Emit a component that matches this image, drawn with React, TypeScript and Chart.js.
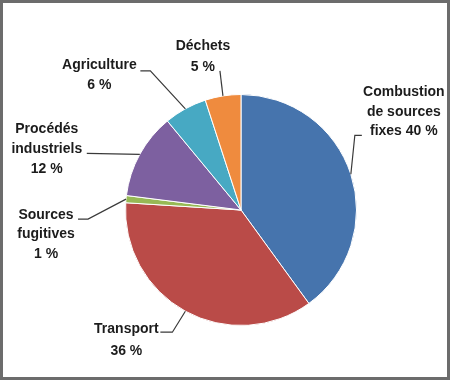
import React, { useEffect, useRef } from "react";
import { Chart, registerables } from "chart.js";

Chart.register(...registerables);

const categories = [
  "Combustion de sources fixes",
  "Transport",
  "Sources fugitives",
  "Procédés industriels",
  "Agriculture",
  "Déchets",
];
const values = [40, 36, 1, 12, 6, 5];
const colors = ["#4674AD", "#BA4B48", "#97B955", "#7D60A0", "#47A9C3", "#EF8B3E"];

// label text broken into lines; percentage either appended to last line or on its own line
const nameLines = [
  ["Combustion", "de sources", "fixes"],
  ["Transport"],
  ["Sources", "fugitives"],
  ["Procédés", "industriels"],
  ["Agriculture"],
  ["Déchets"],
];
const pctInline = [true, false, false, false, false, false];

// layout of the outside labels, relative to the arc's mid point on the rim
const labelLayout = [
  { tx: 53, ty: -63, lh: 19.5, pts: [[4, -39], [11, -39]] },
  { tx: -59, ty: 29, lh: 22, pts: [[-13, 21], [-25, 21]] },
  { tx: -80, ty: 35, lh: 19.5, pts: [[-38, 20], [-48, 20]] },
  { tx: -93, ty: -6, lh: 20, pts: [[-53, -1]] },
  { tx: -86, ty: -34, lh: 20, pts: [[-35, -38], [-45, -38]] },
  { tx: -20, ty: -40, lh: 21, pts: [[-3, -25]] },
];

const FONT_PX = 15.5;
const X_SCALE = 14 / 15.5;

const labelPlugin = {
  id: "outsideLabels",
  afterDatasetsDraw(chart: any) {
    const ctx = chart.ctx;
    const meta = chart.getDatasetMeta(0);
    meta.data.forEach((arc: any, i: number) => {
      const { x, y, outerRadius, startAngle, endAngle } = arc.getProps(
        ["x", "y", "outerRadius", "startAngle", "endAngle"],
        true
      );
      const mid = (startAngle + endAngle) / 2;
      const ax = x + Math.cos(mid) * outerRadius;
      const ay = y + Math.sin(mid) * outerRadius;
      const lay = labelLayout[i];
      ctx.save();
      ctx.beginPath();
      ctx.strokeStyle = "#3a3a3a";
      ctx.lineWidth = 1.2;
      ctx.moveTo(ax, ay);
      lay.pts.forEach((p) => ctx.lineTo(ax + p[0], ay + p[1]));
      ctx.stroke();
      ctx.restore();

      const pct = `${values[i]} %`;
      const lines = [...nameLines[i]];
      if (pctInline[i]) lines[lines.length - 1] = lines[lines.length - 1] + " " + pct;
      else lines.push(pct);
      const cx = ax + lay.tx;
      const cy = ay + lay.ty;
      const n = lines.length;
      ctx.save();
      ctx.translate(cx, cy);
      ctx.scale(X_SCALE, 1);
      ctx.fillStyle = "#1c1c1c";
      ctx.font = `bold ${FONT_PX}px 'Liberation Sans', Arial, sans-serif`;
      ctx.textAlign = "center";
      ctx.textBaseline = "middle";
      lines.forEach((t, k) => {
        ctx.fillText(t, 0, (k - (n - 1) / 2) * lay.lh);
      });
      ctx.restore();
    });
  },
};

export default function App() {
  const ref = useRef<HTMLCanvasElement | null>(null);
  useEffect(() => {
    document.body.style.margin = "0";
    const chart = new Chart(ref.current as HTMLCanvasElement, {
      type: "pie",
      data: {
        labels: categories,
        datasets: [
          {
            data: values,
            backgroundColor: colors,
            borderColor: "#ffffff",
            borderWidth: 1,
          },
        ],
      },
      options: {
        responsive: false,
        animation: false,
        events: [],
        layout: { padding: { left: 122, right: 90, top: 91, bottom: 51 } },
        plugins: {
          legend: { display: false },
          tooltip: { enabled: false },
          title: { display: false },
        },
      },
      plugins: [labelPlugin],
    });
    return () => chart.destroy();
  }, []);
  return (
    <div
      style={{
        width: 450,
        height: 380,
        boxSizing: "border-box",
        border: "3px solid #6c6c6c",
        background: "#ffffff",
        overflow: "hidden",
      }}
    >
      <canvas ref={ref} width={444} height={374} style={{ display: "block" }} />
    </div>
  );
}
